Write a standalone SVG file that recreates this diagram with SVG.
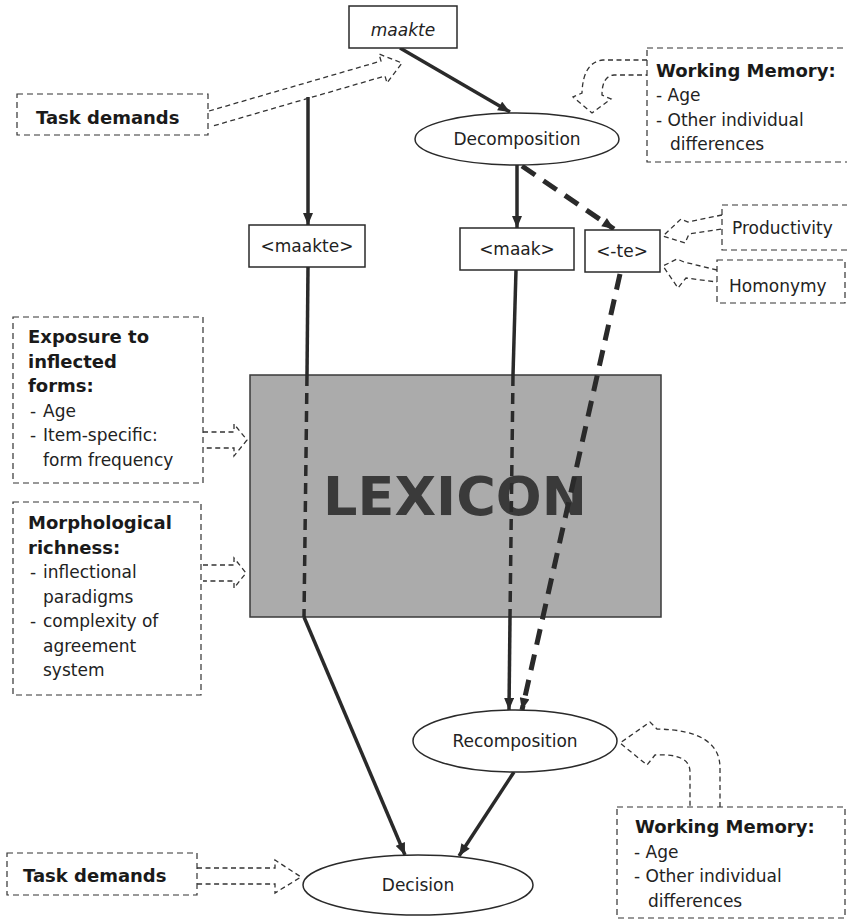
<svg xmlns="http://www.w3.org/2000/svg" width="847" height="922" viewBox="0 0 847 922">
  <style>
    .txt { font-family: "DejaVu Sans", "Liberation Sans", sans-serif; font-size: 17px; fill: #222; }
    .bold { font-family: "DejaVu Sans", "Liberation Sans", sans-serif; font-size: 18px; font-weight: bold; fill: #1a1a1a; }
    .mid { text-anchor: middle; }
    .box { fill: #fff; stroke: #2a2a2a; stroke-width: 1.5; }
    .factor { fill: none; stroke: #333; stroke-width: 1.2; stroke-dasharray: 6 4; }
    .block { fill: none; stroke: #333; stroke-width: 1.3; stroke-dasharray: 5 3.5; }
    .solid { fill: none; stroke: #2a2a2a; stroke-width: 3.5; }
    .thin-dash { fill: none; stroke: #2a2a2a; stroke-width: 3.5; stroke-dasharray: 11 7; }
    .thick-dash { fill: none; stroke: #2a2a2a; stroke-width: 5; stroke-dasharray: 16 10; }
  </style>
  <defs>
    <marker id="head" viewBox="0 0 12 10" refX="12" refY="5" markerWidth="13" markerHeight="10" markerUnits="userSpaceOnUse" orient="auto">
      <path d="M0,0 L12,5 L0,10 z" fill="#2a2a2a"/>
    </marker>
  </defs>

  <rect width="847" height="922" fill="#fff"/>

  <!-- lexicon block (drawn first so the routes run over it) -->
  <g id="lexicon">
    <rect x="250" y="375" width="411" height="242" fill="#ababab" stroke="#3a3a3a" stroke-width="1.5"/>
    <text x="455" y="515" class="mid" style="font-family: 'DejaVu Sans', sans-serif; font-size: 54px; font-weight: bold; fill: #3a3a3a;">LEXICON</text>
  </g>

  <!-- processing routes -->
  <g id="connectors">
    <line x1="400" y1="48" x2="510" y2="112" class="solid" marker-end="url(#head)"/>
    <line x1="308" y1="97" x2="308" y2="225" class="solid" marker-end="url(#head)"/>
    <line x1="517" y1="165" x2="517" y2="228" class="solid" marker-end="url(#head)"/>
    <line x1="522" y1="166" x2="614" y2="229" class="thick-dash" marker-end="url(#head)"/>

    <line x1="308" y1="267" x2="307" y2="375" class="solid"/>
    <line x1="307" y1="375" x2="304" y2="617" class="thin-dash"/>
    <line x1="304" y1="617" x2="405" y2="855" class="solid" marker-end="url(#head)"/>

    <line x1="516" y1="270" x2="513" y2="375" class="solid"/>
    <line x1="513" y1="375" x2="510" y2="617" class="thin-dash"/>
    <line x1="510" y1="617" x2="509" y2="710" class="solid" marker-end="url(#head)"/>

    <line x1="620" y1="274" x2="522" y2="710" class="thick-dash" marker-end="url(#head)"/>

    <line x1="514" y1="772" x2="459" y2="856" class="solid" marker-end="url(#head)"/>

    <!-- influence arrows (hollow, dashed) -->
    <path class="block" d="M209,111 L381,61 L379,54 L402,63 L387,83 L385,76 L213,126"/>
    <path class="block" d="M647,60 H603 Q583,62 582,93 L573,97 L592,113 L611,99 L602,95 Q602,76 614,75 H647"/>
    <path class="block" d="M722,215 L688,222 L681,219 L663,236 L685,243 L689,234 L722,229"/>
    <path class="block" d="M717,270 L684,262 L677,259 L663,266 L678,288 L686,278 L717,282"/>
    <path class="block" d="M203,432 H234 L234,424 L247,440 L234,456 L234,448 H203"/>
    <path class="block" d="M203,565 H234 L234,558 L246,573 L234,588 L234,581 H203"/>
    <path class="block" d="M197,868 H275 L275,860 L301,877 L275,893 L275,884 H197"/>
    <path class="block" d="M720,807 V768 Q720,730 657,729 L650,722 L620,743 L647,765 L655,755 Q690,753 690,772 V807"/>
  </g>

  <g id="input">
    <rect x="349" y="6" width="108" height="42" class="box"/>
    <text x="403" y="36" class="txt mid" font-style="italic">maakte</text>
  </g>

  <g id="decomposition">
    <ellipse cx="517" cy="139" rx="102" ry="26" class="box"/>
    <text x="517" y="145" class="txt mid">Decomposition</text>
  </g>

  <g id="whole-form">
    <rect x="249" y="225" width="116" height="42" class="box"/>
    <text x="307" y="252" class="txt mid">&lt;maakte&gt;</text>
  </g>

  <g id="stem">
    <rect x="460" y="228" width="114" height="42" class="box"/>
    <text x="517" y="255" class="txt mid">&lt;maak&gt;</text>
  </g>

  <g id="suffix">
    <rect x="585" y="230" width="75" height="42" class="box"/>
    <text x="622" y="257" class="txt mid">&lt;-te&gt;</text>
  </g>

  <g id="recomposition">
    <ellipse cx="515" cy="741" rx="102" ry="31" class="box"/>
    <text x="515" y="747" class="txt mid">Recomposition</text>
  </g>

  <g id="decision">
    <ellipse cx="418" cy="885" rx="115" ry="30" class="box"/>
    <text x="418" y="891" class="txt mid">Decision</text>
  </g>

  <g id="task-demands-top">
    <rect x="17" y="94" width="191" height="41" class="factor"/>
    <text x="36" y="124" class="bold">Task demands</text>
  </g>

  <g id="working-memory-top">
    <rect x="647" y="48" width="210" height="114" class="factor"/>
    <text x="656" y="77" class="bold">Working Memory:</text>
    <text x="656" y="101" class="txt">- Age</text>
    <text x="656" y="125.5" class="txt">- Other individual</text>
    <text x="670" y="150" class="txt">differences</text>
  </g>

  <g id="productivity">
    <rect x="722" y="205" width="135" height="45" class="factor"/>
    <text x="732" y="234" class="txt">Productivity</text>
  </g>

  <g id="homonymy">
    <rect x="717" y="260" width="128" height="43" class="factor"/>
    <text x="729" y="292" class="txt">Homonymy</text>
  </g>

  <g id="exposure">
    <rect x="13" y="317" width="190" height="166" class="factor"/>
    <text x="28" y="343" class="bold">Exposure to</text>
    <text x="28" y="367.5" class="bold">inflected</text>
    <text x="28" y="392" class="bold">forms:</text>
    <text y="416.5" class="txt"><tspan x="30">-</tspan><tspan x="43">Age</tspan></text>
    <text y="441" class="txt"><tspan x="30">-</tspan><tspan x="43">Item-specific:</tspan></text>
    <text x="43" y="465.5" class="txt">form frequency</text>
  </g>

  <g id="morphological-richness">
    <rect x="13" y="502" width="188" height="193" class="factor"/>
    <text x="28" y="529" class="bold">Morphological</text>
    <text x="28" y="553.5" class="bold">richness:</text>
    <text y="578" class="txt"><tspan x="30">-</tspan><tspan x="43">inflectional</tspan></text>
    <text x="43" y="602.5" class="txt">paradigms</text>
    <text y="627" class="txt"><tspan x="30">-</tspan><tspan x="43">complexity of</tspan></text>
    <text x="43" y="651.5" class="txt">agreement</text>
    <text x="43" y="676" class="txt">system</text>
  </g>

  <g id="task-demands-bottom">
    <rect x="7" y="853" width="190" height="42" class="factor"/>
    <text x="23" y="882" class="bold">Task demands</text>
  </g>

  <g id="working-memory-bottom">
    <rect x="617" y="807" width="228" height="111" class="factor"/>
    <text x="635" y="833" class="bold">Working Memory:</text>
    <text x="634" y="857.5" class="txt">- Age</text>
    <text x="634" y="882" class="txt">- Other individual</text>
    <text x="648" y="906.5" class="txt">differences</text>
  </g>
</svg>
